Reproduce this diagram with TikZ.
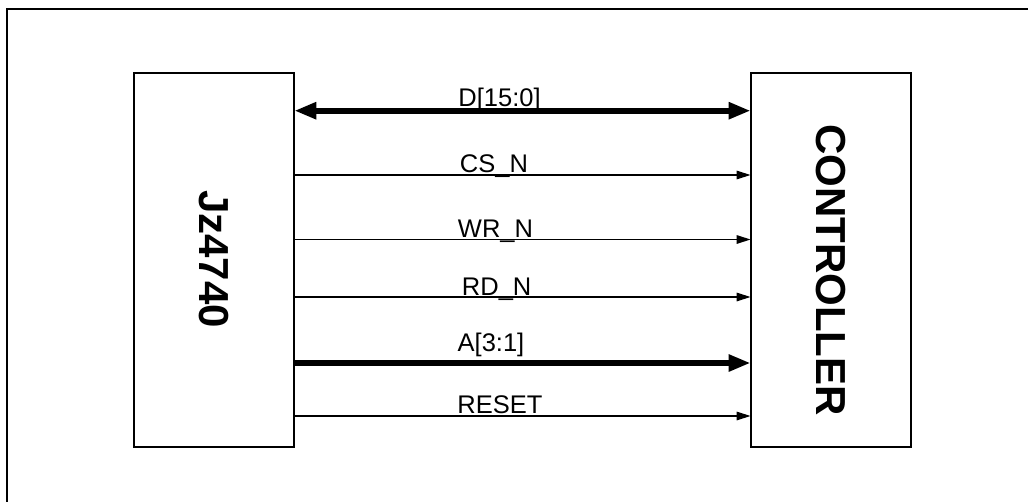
\documentclass[tikz,border=0pt]{standalone}
\usepackage{fontspec}
\setmainfont{Liberation Sans}
\usetikzlibrary{arrows.meta}
\begin{document}
\begin{tikzpicture}[x=1pt,y=-1pt,
  chip/.style={draw=black,line width=2pt,minimum width=160.8pt,minimum height=373.4pt,inner sep=0pt,outer sep=0pt},
  chiplabel/.style={font=\fontsize{42}{48}\selectfont\bfseries,rotate=-90,inner sep=0pt},
  sig/.style={font=\fontsize{25.5}{30}\selectfont,anchor=base,inner sep=0pt},
  thinarrow/.style={line width=1.4pt,-{Triangle[length=14pt,width=8.5pt]}},
  busarrow/.style={line width=6pt,-{Triangle[length=22pt,width=16pt]}},
  bibus/.style={line width=6pt,{Triangle[length=22pt,width=16pt]}-{Triangle[length=22pt,width=16pt]}}]
\useasboundingbox (0,0) rectangle (1028,501);
\fill[white] (0,0) rectangle (1028,501);
\draw[line width=2pt] (6.5,520) -- (6.5,8.5) -- (1040,8.5);
\node[chip] (jz) at (213.9,260) {};
\node[chip] (ctl) at (831,260) {};
\node[chiplabel] (jzl) at (213.9,259) {Jz4740};
\node[chiplabel] (ctll) at (831,270) {CONTROLLER};
% signal rows
\coordinate (yD) at (0,110.7);
\coordinate (yCS) at (0,175);
\coordinate (yWR) at (0,239.5);
\coordinate (yRD) at (0,297);
\coordinate (yA) at (0,363);
\coordinate (yRST) at (0,416);
\draw[bibus] (jz.east |- yD) -- (ctl.west |- yD);
\draw[thinarrow] (jz.east |- yCS) -- (ctl.west |- yCS);
\draw[thinarrow] (jz.east |- yWR) -- (ctl.west |- yWR);
\draw[thinarrow] (jz.east |- yRD) -- (ctl.west |- yRD);
\draw[busarrow] (jz.east |- yA) -- (ctl.west |- yA);
\draw[thinarrow] (jz.east |- yRST) -- (ctl.west |- yRST);
\node[sig] (lD) at (499.5,106.7) {D[15:0]};
\node[sig] (lCS) at (494,172.7) {CS\_N};
\node[sig] (lWR) at (495.5,237.7) {WR\_N};
\node[sig] (lRD) at (496.7,295.7) {RD\_N};
\node[sig] (lA) at (491,351.7) {A[3:1]};
\node[sig] (lRST) at (500,413) {RESET};
\end{tikzpicture}
\end{document}
